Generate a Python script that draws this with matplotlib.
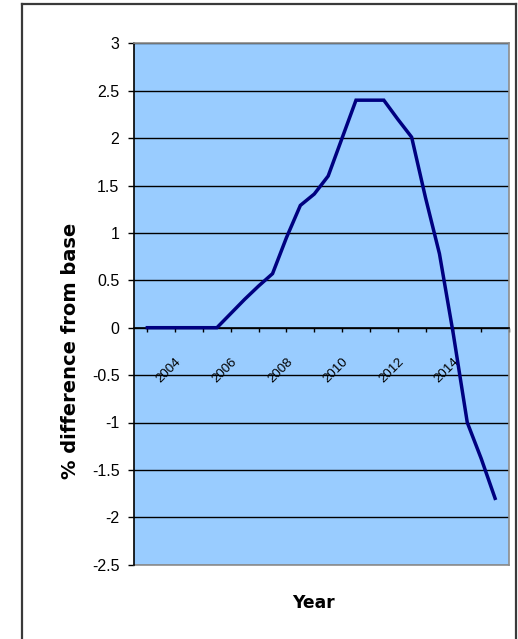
import matplotlib
matplotlib.use("Agg")
import matplotlib.pyplot as plt
from matplotlib.lines import Line2D
from matplotlib.ticker import FuncFormatter

# Half-yearly series: % difference from base
years = [2003.0, 2003.5, 2004.0, 2004.5, 2005.0, 2005.5, 2006.0, 2006.5,
         2007.0, 2007.5, 2008.0, 2008.5, 2009.0, 2009.5, 2010.0, 2010.5,
         2011.0, 2011.5, 2012.0, 2012.5, 2013.0, 2013.5, 2014.0, 2014.5,
         2015.0, 2015.5]
pct_diff = [0.0, 0.0, 0.0, 0.0, 0.0, 0.0, 0.15, 0.30,
            0.44, 0.57, 0.95, 1.29, 1.41, 1.60, 2.00, 2.40,
            2.40, 2.40, 2.20, 2.01, 1.37, 0.78, -0.07, -1.00,
            -1.38, -1.80]

tick_years = [2003, 2004, 2005, 2006, 2007, 2008, 2009, 2010, 2011, 2012,
              2013, 2014, 2015, 2016]
labelled_years = [2004, 2006, 2008, 2010, 2012, 2014]
y_ticks = [-2.5, -2, -1.5, -1, -0.5, 0, 0.5, 1, 1.5, 2, 2.5, 3]

W, H = 518, 639
fig = plt.figure(figsize=(W / 100, H / 100), dpi=100)
fig.patch.set_facecolor("white")

# chart-area frame
frame_kw = dict(color="#3a3a3a", lw=1.6, transform=fig.transFigure)
fig.add_artist(Line2D([22 / W, 22 / W], [1 - 4 / H, 0], **frame_kw))
fig.add_artist(Line2D([22 / W, 516 / W], [1 - 4 / H, 1 - 4 / H], **frame_kw))
fig.add_artist(Line2D([516 / W, 516 / W], [1 - 4 / H, 0], **frame_kw))

ax = fig.add_axes([134 / W, 74.3 / H, 375 / W, 521.4 / H])
ax.set_facecolor("#99CCFF")

ax.set_xlim(2002.52, 2016.0)
ax.set_ylim(-2.5, 3)

# horizontal gridlines
ax.set_yticks(y_ticks)
ax.yaxis.grid(True, color="black", lw=1.0)
ax.set_axisbelow(True)

ax.plot(years, pct_diff, color="#000080", lw=2.5, solid_joinstyle="miter", zorder=3)

# spines
for side in ("top", "right"):
    ax.spines[side].set_color("#8c8c8c")
    ax.spines[side].set_linewidth(1.2)
ax.spines["left"].set_color("black")
ax.spines["left"].set_linewidth(1.2)
ax.spines["bottom"].set_position(("data", 0))
ax.spines["bottom"].set_color("black")
ax.spines["bottom"].set_linewidth(1.2)
# grey bottom edge of the plot area
ax.add_line(Line2D([0, 1], [0, 0], transform=ax.transAxes, color="#8c8c8c",
                   lw=1.2, clip_on=False))

fmt = FuncFormatter(lambda v, pos: ("%g" % v))
ax.yaxis.set_major_formatter(fmt)
ax.tick_params(axis="y", direction="out", length=4.5, width=1.0, pad=6,
               labelsize=11.5, colors="black")
for lab in ax.get_yticklabels():
    lab.set_family("Liberation Sans")

ax.set_xticks(tick_years)
ax.set_xticklabels([str(y) if y in labelled_years else "" for y in tick_years])
ax.tick_params(axis="x", direction="out", length=3, width=1.0, pad=17,
               labelsize=9.5, colors="black")
for lab in ax.get_xticklabels():
    lab.set_family("Liberation Sans")
    lab.set_rotation(45)
    lab.set_rotation_mode("anchor")
    lab.set_ha("right")
    lab.set_va("top")

fig.text(70 / W, 1 - 351 / H, "% difference from base", rotation=90,
         ha="center", va="center", fontsize=14, fontweight="bold",
         family="DejaVu Sans")
fig.text(313 / W, 1 - 603 / H, "Year", ha="center", va="center",
         fontsize=12.3, fontweight="bold", family="DejaVu Sans")

fig.savefig("out.png", dpi=100)
